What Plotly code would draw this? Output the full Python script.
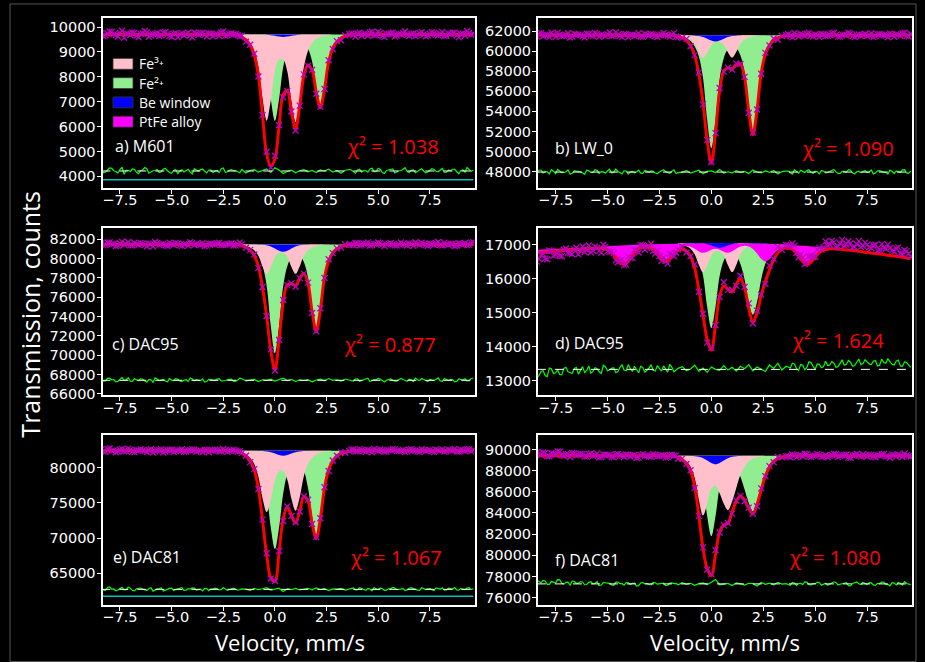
import numpy as np
import plotly.graph_objects as go

# ---------------------------------------------------------------- channels
VEL = np.round(np.linspace(-8.4, 9.6, 91), 1)        # velocity channels, mm/s
CORE = slice(34, 61)                                  # -1.6 ... 3.6 mm/s
# extra (interleaved) channels in the flat wings of every spectrum
VEL_MID = np.round(np.concatenate([np.linspace(-8.3, -1.7, 34), np.linspace(3.7, 9.5, 30)]), 1)

X_RANGE = [-8.345, 9.66]
X_TICKS = [-7.5, -5.0, -2.5, 0.0, 2.5, 5.0, 7.5]

# ---------------------------------------------------------------- a) M601
BASE_A = 9700
FE3_A = [86, 171, 342, 650, 1300, 2586, 3462, 2652, 1474, 997, 1001, 1490, 2689, 3511,
         2624, 1319, 659, 347, 174, 87, 42, 21, 0, 0, 0, 0, 0]
FE2_A = [21, 42, 87, 174, 347, 659, 1319, 2603, 3470, 2603, 1319, 676, 381, 246, 230,
         328, 564, 1087, 2145, 2860, 2145, 1087, 543, 286, 143, 72, 34]
BE_A = [0, 0, 0, 0, 2, 5, 12, 28, 55, 85, 100, 85, 55, 28, 12, 5, 2, 0, 0, 0, 0, 0, 0, 0, 0, 0, 0]
RES_A = [60, -40, 120, 10, -80, 150, 30, -20, 70, -110,
         40, 90, -30, 20, -60, 80, 10, -90, 50, 0,
         -40, 70, -120, 30, 60, -10, 40, -70, 20, 90,
         -50, 30, 10, -30, 60, -80, 20, 50, -40, 10,
         80, -60, 130, 40, -100, -20, 30, -70, 10, 50,
         -30, 20, -60, 40, 0, 70, -40, 20, -90, 30,
         60, -20, 40, -50, 10, 80, -30, 110, -60, 20,
         40, -80, 10, 60, -20, 30, -70, 50, 0, -40,
         90, -10, 30, -60, 40, 70, -30, 20, -50, 60,
         30]
RESM_A = [-70, 40, 110, -20, 60, -130, 30, 80, -50, 20, 140, -90, 10, 60, -30, 100, -60,
          30, -110, 50, 20, -40, 90, -10, 70, -80, 40, 0, -60, 120, -30, 50, 10, -70,
          40, -90, 70, 20, -50, 110, -20, 60, -100, 30, 80, -40, 10, 130, -60,
          40, -20, 90, -70, 20, 60, -30, 100, -50, 10, 70, -110, 40, 140, -10]
RESLVL_A = 4218
CYAN_A = 3861
YR_A = [3535, 10350]
YT_A = [4000, 5000, 6000, 7000, 8000, 9000, 10000]

# ---------------------------------------------------------------- b) LW_0
BASE_B = 61600
FE3_B = [56, 112, 223, 424, 847, 1686, 2256, 1728, 957, 644, 641, 948, 1706, 2227,
         1663, 836, 418, 220, 110, 55, 26, 13, 0, 0, 0, 0, 0]
FE2_B = [68, 135, 282, 565, 1129, 2145, 4290, 8468, 11290, 8468, 4349, 2263, 1374, 1056,
         1263, 1999, 3796, 7358, 9810, 7358, 3728, 1864, 981, 491, 245, 118, 59]
BE_B = [0, 0, 0, 12, 31, 74, 174, 341, 527, 620, 527, 341, 174, 74, 31, 12, 0, 0, 0, 0, 0, 0, 0, 0, 0, 0, 0]
RES_B = [-120, 200, 40, -180, 90, 260, -60, 30, -210, 150,
         70, -90, 180, -30, 240, -150, 20, 110, -70, 300,
         -40, 130, -200, 60, 10, -110, 170, -20, 80, -160,
         90, 40, -130, 220, -60, 0, 150, -90, 30, 190,
         -180, 70, 120, -40, 260, -100, 30, -70, 140, -20,
         60, -150, 210, 10, -80, 120, -30, 170, -200, 50,
         90, -60, 230, -110, 40, 150, -20, 80, -170, 110,
         -40, 200, 20, -130, 70, 250, -90, 30, -60, 160,
         10, -180, 120, 60, -20, 190, -140, 50, 220, -80,
         130]
RESM_B = [180, -90, 30, 250, -160, 60, -40, 210, -120, 90, 20, -220, 140, -60, 170, 40, -100,
          280, -30, 60, -180, 110, 30, -70, 200, -140, 50, 130, -90, 10, 240, -50, 80, -150,
          100, -200, 60, 170, -40, 230, -110, 20, 150, -80, 40, 260, -130, 70, -20,
          190, -170, 90, 30, -60, 210, -100, 140, 0, -190, 80, 120, -40, 250, -120]
RESLVL_B = 47940
YR_B = [46350, 63300]
YT_B = [48000, 50000, 52000, 54000, 56000, 58000, 60000, 62000]

# ---------------------------------------------------------------- c) DAC95
BASE_C = 81450
FE3_C = [75, 150, 300, 570, 1140, 2268, 3036, 2325, 1290, 870, 870, 1290, 2325, 3036,
         2268, 1140, 570, 300, 150, 75, 36, 18, 0, 0, 0, 0, 0]
FE2_C = [68, 135, 281, 563, 1125, 2138, 4275, 8438, 11250, 8438, 4328, 2244, 1346, 1006,
         1166, 1817, 3431, 6638, 8850, 6638, 3363, 1682, 885, 443, 221, 106, 53]
BE_C = [0, 0, 0, 0, 15, 38, 90, 210, 413, 638, 750, 638, 413, 210, 90, 38, 15, 0, 0, 0, 0, 0, 0, 0, 0, 0, 0]
RES_C = [150, -60, 220, 80, -120, 300, 40, -90, 180, -30,
         110, -200, 60, 250, -40, 90, -150, 20, 170, -80,
         30, -120, 140, 60, -30, -180, 90, 10, 130, -70,
         -20, 80, -110, 40, 160, -60, 20, 100, -140, 50,
         0, 120, -80, 60, 210, -30, 90, -120, 40, -20,
         70, -150, 30, 110, -60, 180, -10, 40, -90, 130,
         20, -70, 160, -30, 90, -120, 60, 200, -40, 10,
         150, -80, 40, 90, -110, 60, 230, -30, 80, -130,
         30, 120, -60, 190, -20, 70, -100, 50, 160, -40,
         240]
RESM_C = [-90, 200, 50, -160, 120, -30, 260, -110, 40, 170, -60, 90, -210, 140, 30, -80, 190,
          -20, 100, -140, 60, 230, -50, 10, 150, -120, 80, -30, 180, -70, 40, 120, -90, 210,
          -40, 160, -100, 70, 220, -60, 30, 140, -170, 90, 10, -80, 200, -30, 120,
          -140, 60, 180, -50, 100, -20, 250, -110, 40, 80, -160, 130, 20, -70, 190]
RESLVL_C = 67400
YR_C = [65850, 83200]
YT_C = [66000, 68000, 70000, 72000, 74000, 76000, 78000, 80000, 82000]

# ---------------------------------------------------------------- d) DAC95 (curved baseline)
BASE_D = [16850, 16857, 16863, 16870, 16877, 16884, 16890, 16897, 16903, 16910,
          16917, 16923, 16930, 16936, 16942, 16948, 16954, 16960, 16966, 16972,
          16978, 16984, 16990, 16994, 16998, 17002, 17006, 17010, 17013, 17016,
          17019, 17022, 17025, 17028, 17031, 17034, 17037, 17040, 17042, 17044,
          17046, 17048, 17050, 17050, 17050, 17050, 17050, 17050, 17048, 17046,
          17044, 17042, 17040, 17035, 17030, 17025, 17020, 17015, 17008, 17001,
          16994, 16987, 16980, 16972, 16964, 16956, 16948, 16940, 16928, 16916,
          16904, 16892, 16880, 16866, 16852, 16838, 16824, 16810, 16794, 16778,
          16762, 16746, 16730, 16714, 16698, 16682, 16666, 16650, 16630, 16610,
          16590]
BASE_D_MID = [16853, 16860, 16866, 16873, 16880, 16887, 16893, 16900, 16906, 16913, 16920,
              16926, 16933, 16939, 16945, 16951, 16957, 16963, 16969, 16975, 16981, 16987,
              16992, 16996, 17000, 17004, 17008, 17011, 17014, 17017, 17020, 17023, 17026, 17029,
              16990, 16983, 16976, 16968, 16960, 16952, 16944, 16934, 16922, 16910, 16898,
              16886, 16873, 16859, 16845, 16831, 16817, 16802, 16786, 16770, 16754, 16738,
              16722, 16706, 16690, 16674, 16658, 16640, 16620, 16600]
FE3_D = [21, 43, 85, 162, 323, 643, 860, 659, 366, 247, 247, 366, 659, 860,
         643, 323, 162, 85, 43, 21, 10, 5, 0, 0, 0, 0, 0]
FE2_D = [15, 30, 63, 125, 250, 475, 950, 1875, 2500, 1875, 971, 517, 334, 293,
         378, 618, 1065, 1722, 2100, 1722, 1050, 588, 315, 168, 84, 42, 21]
BE_D = [0, 0, 0, 0, 3, 7, 17, 39, 77, 119, 140, 119, 77, 39, 17, 7, 3, 0, 0, 0, 0, 0, 0, 0, 0, 0, 0]
PTFE_D = [100, 95, 90, 85, 80, 75, 72, 70, 68, 65, 62, 60, 58,
          58, 57, 62, 79, 118, 201, 339, 493,
          565, 483, 322, 177, 99, 75, 95, 168, 299, 447,
          520, 448, 299, 169, 98, 78, 103, 166, 244, 288,
          261, 202, 174, 202, 261, 288, 247, 167, 103, 78,
          98, 169, 299, 448, 520, 447, 299, 167, 94, 74,
          97, 173, 311, 464, 540, 464, 308, 167, 81, 38,
          16, 6, 3,
          0, 0, 0, 0, 0, 0, 0, 0, 0, 0, 0, 0, 0, 0, 0, 0, 0]
PTFE_D_MID = [97, 92, 87, 82, 77, 73, 71, 69, 66, 63, 61, 59, 58, 57, 59, 70, 96, 155, 268,
              420, 540, 535, 405, 245, 132, 84, 82, 128, 232, 378, 500, 500, 378, 232,
              82, 130, 243, 395, 520, 520, 395, 240, 120, 58, 26, 10, 4, 1,
              0, 0, 0, 0, 0, 0, 0, 0, 0, 0, 0, 0, 0, 0, 0, 0]
RES_D = [-250, -60, -180, 40, -120, -20, -160, 60, -90, 20,
         -140, 80, -30, -110, 50, -70, 120, -40, 30, -90,
         60, -20, 140, -60, 10, 90, -80, 40, -30, 110,
         -50, 20, 150, -70, 30, 80, -40, 10, 120, -60,
         40, -90, 70, 0, -30, 110, -20, 60, -50, 90,
         20, 140, -40, 70, 10, -60, 130, 30, 180, -20,
         90, 40, 160, -30, 120, 60, 200, 10, 150, 80,
         110, 230, 60, 170, 120, 260, 90, 210, 140, 280,
         160, 240, 100, 300, 180, 220, 130, 270, 90, 200,
         60]
RESM_D = [-180, -40, -210, 20, -100, -150, 30, -70, -120, 60, -30, -90, 100, -60, 20, -120, 80,
          -20, 50, -70, 130, -40, 20, 90, -100, 60, -20, 140, -50, 30, 100, -80, 60, -30,
          70, 180, 20, 140, -10, 220, 90, 160, 50, 240, 130, 190, 80, 280, 150,
          210, 110, 300, 170, 230, 140, 260, 120, 200, 310, 150, 240, 100, 220, 130]
RESLVL_D = 13340
YR_D = [12580, 17500]
YT_D = [13000, 14000, 15000, 16000, 17000]

# ---------------------------------------------------------------- e) DAC81
BASE_E = 82400
FE3_E = [258, 515, 1031, 1890, 3694, 6759, 8716, 6952, 4198, 2898, 2879, 4127, 6810, 8529,
         6612, 3612, 1848, 1008, 504, 252, 126, 59, 0, 0, 0, 0, 0]
FE2_E = [98, 210, 419, 839, 1678, 3076, 6011, 10904, 13980, 10904, 6095, 3255, 2037, 1557,
         1854, 2841, 5241, 9329, 11960, 9329, 5143, 2631, 1435, 718, 359, 179, 84]
BE_E = [0, 0, 0, 0, 14, 35, 84, 196, 385, 595, 700, 595, 385, 196, 84, 35, 14, 0, 0, 0, 0, 0, 0, 0, 0, 0, 0]
RES_E = [200, -150, 350, 60, -100, 280, -40, 150, -220, 90,
         40, -180, 230, -60, 120, -250, 70, 180, -30, 100,
         -140, 60, 210, -90, 30, 150, -200, 40, 110, -60,
         90, -30, 170, -120, 60, 20, -160, 130, -50, 80,
         240, -110, 40, 160, -300, 70, -40, 120, -90, 30,
         150, -70, 210, -20, 90, -180, 60, 20, 130, -100,
         50, 190, -60, 110, -140, 40, 260, -30, 90, -120,
         70, 180, -40, 130, -80, 240, 20, -150, 100, 60,
         -60, 200, 30, -110, 170, 50, -90, 140, -20, 230,
         90]
RESM_E = [-120, 260, 30, -200, 150, -60, 310, -140, 80, 190, -30, 120, -250, 60, 200, -90, 140,
          -170, 40, 230, -100, 70, 180, -40, -220, 110, 30, 160, -80, 250, -150, 90, 20, -60,
          170, -90, 240, -30, 120, -200, 60, 190, -140, 80, 280, -50, 30, -180, 150,
          90, -110, 220, -20, 130, -160, 60, 210, -70, 100, 260, -120, 40, 180, -40]
RESLVL_E = 62700
CYAN_E = 61710
YR_E = [60540, 84670]
YT_E = [65000, 70000, 75000, 80000]

# ---------------------------------------------------------------- f) DAC81
BASE_F = 89400
FE3_F = [135, 270, 539, 1024, 2108, 4168, 5640, 4543, 3048, 2824, 3539, 4520, 5135, 4315,
         3032, 1800, 1000, 500, 250, 125, 60, 0, 0, 0, 0, 0, 0]
FE2_F = [46, 91, 190, 380, 760, 1444, 2888, 5700, 7600, 5700, 2951, 1575, 1022, 904,
         1238, 1977, 3190, 4454, 5240, 4454, 3144, 1886, 1048, 524, 262, 131, 63]
BE_F = [0, 0, 0, 16, 40, 96, 224, 440, 680, 800, 680, 440, 224, 96, 40, 16, 0, 0, 0, 0, 0, 0, 0, 0, 0, 0, 0]
RES_F = [350, 100, 280, -50, 200, 400, 60, 150, -120, 250,
         90, 180, -60, 220, 40, -150, 130, 70, -90, 160,
         30, -120, 110, 60, -200, 90, 20, -60, 140, -30,
         50, -170, 80, 20, -90, 120, -40, 60, -130, 30,
         100, -60, 150, 420, -80, -30, 40, -150, 90, 10,
         -110, 60, 20, -190, 130, -40, 70, -80, 150, -20,
         30, -140, 90, 40, -60, 170, -100, 20, 110, -50,
         -130, 60, 140, -30, 80, -170, 40, 190, -60, 20,
         110, -90, 50, 160, -40, -180, 70, 130, -110, 40,
         -70]
RESM_F = [180, 320, -40, 240, 90, 380, -20, 160, 260, 40, 200, -80, 150, 10, 230, -110, 100,
          50, -140, 170, 20, 120, -60, 80, -170, 140, 30, -90, 110, -20, 60, -130, 90, 40,
          -60, 130, -150, 50, 190, -80, 20, 160, -120, 70, -30, 200, -100, 40, 120,
          -180, 80, 10, 150, -60, 90, -140, 30, 170, -40, 110, -90, 60, 220, -10]
RESLVL_F = 77300
YR_F = [75350, 91380]
YT_F = [76000, 78000, 80000, 82000, 84000, 86000, 88000, 90000]

LABELS = ["a) M601", "b) LW_0", "c) DAC95", "d) DAC95", "e) DAC81", "f) DAC81"]
CHI2 = ["1.038", "1.090", "0.877", "1.624", "1.067", "1.080"]
LEGEND_NAMES = ["Fe³⁺", "Fe²⁺", "Be window", "PtFe alloy"]

# ---------------------------------------------------------------- styling
C_FE3, C_FE2, C_BE, C_PTFE = "#ffc0cb", "#90ee90", "#0000ff", "#ff00ff"
C_DATA, C_FIT, C_RES, C_CYAN = "#bf00bf", "#ff0000", "#00ff00", "#00bfbf"
LEGEND_COLORS = [C_FE3, C_FE2, C_BE, C_PTFE]
FONT = "DejaVu Sans"
TFONT = "Open Sans"
W, H = 925, 662

COL_X = [[102.5 / W, 474.5 / W], [538 / W, 912 / W]]
ROW_Y = [[1 - 190 / H, 1 - 18.5 / H], [1 - 399.5 / H, 1 - 230 / H], [1 - 611 / H, 1 - 439.5 / H]]

PANELS = [
    dict(base=BASE_A, base_mid=None, fe3=FE3_A, fe2=FE2_A, be=BE_A, ptfe=None, ptfe_mid=None,
         res=RES_A, resm=RESM_A, lvl=RESLVL_A, cyan=CYAN_A, yr=YR_A, yt=YT_A),
    dict(base=BASE_B, base_mid=None, fe3=FE3_B, fe2=FE2_B, be=BE_B, ptfe=None, ptfe_mid=None,
         res=RES_B, resm=RESM_B, lvl=RESLVL_B, cyan=None, yr=YR_B, yt=YT_B),
    dict(base=BASE_C, base_mid=None, fe3=FE3_C, fe2=FE2_C, be=BE_C, ptfe=None, ptfe_mid=None,
         res=RES_C, resm=RESM_C, lvl=RESLVL_C, cyan=None, yr=YR_C, yt=YT_C),
    dict(base=BASE_D, base_mid=BASE_D_MID, fe3=FE3_D, fe2=FE2_D, be=BE_D, ptfe=PTFE_D, ptfe_mid=PTFE_D_MID,
         res=RES_D, resm=RESM_D, lvl=RESLVL_D, cyan=None, yr=YR_D, yt=YT_D),
    dict(base=BASE_E, base_mid=None, fe3=FE3_E, fe2=FE2_E, be=BE_E, ptfe=None, ptfe_mid=None,
         res=RES_E, resm=RESM_E, lvl=RESLVL_E, cyan=CYAN_E, yr=YR_E, yt=YT_E),
    dict(base=BASE_F, base_mid=None, fe3=FE3_F, fe2=FE2_F, be=BE_F, ptfe=None, ptfe_mid=None,
         res=RES_F, resm=RESM_F, lvl=RESLVL_F, cyan=None, yr=YR_F, yt=YT_F),
]

fig = go.Figure()
n, nm = len(VEL), len(VEL_MID)

for i, p in enumerate(PANELS):
    sfx = "" if i == 0 else str(i + 1)
    xa, ya = "x" + sfx, "y" + sfx
    if np.isscalar(p["base"]):
        base = np.full(n, float(p["base"]))
        base_mid = np.full(nm, float(p["base"]))
    else:
        base = np.array(p["base"], dtype=float)
        base_mid = np.array(p["base_mid"], dtype=float)
    fe3 = np.array(p["fe3"], float)
    fe2 = np.array(p["fe2"], float)
    be = np.array(p["be"], float)
    dip = np.zeros(n)
    dip[CORE] += fe3 + fe2 + be
    dip_mid = np.zeros(nm)
    if p["ptfe"] is not None:
        dip += np.array(p["ptfe"], float)
        dip_mid += np.array(p["ptfe_mid"], float)
    fit = base - dip
    data = fit + np.array(p["res"], float)
    data_mid = base_mid - dip_mid + np.array(p["resm"], float)

    # residual trace on the merged channel list
    order = np.argsort(np.concatenate([VEL, VEL_MID]))
    res_x = np.concatenate([VEL, VEL_MID])[order]
    res_y = (p["lvl"] + np.concatenate([np.array(p["res"], float), np.array(p["resm"], float)]))[order]

    xc = VEL[CORE]
    bc = base[CORE]

    def add_fill(x, b, depth, color):
        fig.add_trace(go.Scatter(x=x, y=b, mode="lines", line=dict(width=0),
                                 hoverinfo="skip", showlegend=False, xaxis=xa, yaxis=ya))
        fig.add_trace(go.Scatter(x=x, y=b - depth, mode="lines",
                                 line=dict(width=0, shape="spline", color=color),
                                 fill="tonexty", fillcolor=color,
                                 showlegend=False, xaxis=xa, yaxis=ya))

    add_fill(xc, bc, fe2, C_FE2)
    add_fill(xc, bc, fe3, C_FE3)
    if p["ptfe"] is not None:
        add_fill(VEL, base, np.array(p["ptfe"], float), C_PTFE)
    add_fill(xc, bc, be, C_BE)

    if p["cyan"] is not None:
        fig.add_trace(go.Scatter(x=[VEL[0], VEL[-1]], y=[p["cyan"], p["cyan"]], mode="lines",
                                 line=dict(color=C_CYAN, width=1.5), showlegend=False,
                                 xaxis=xa, yaxis=ya))
    fig.add_trace(go.Scatter(x=res_x, y=res_y, mode="lines", line=dict(color=C_RES, width=1.2),
                             showlegend=False, xaxis=xa, yaxis=ya))
    fig.add_trace(go.Scatter(x=[VEL[0], VEL[-1]], y=[p["lvl"], p["lvl"]], mode="lines",
                             line=dict(color="white", width=1, dash="dash"), showlegend=False,
                             xaxis=xa, yaxis=ya))
    fig.add_trace(go.Scatter(x=VEL, y=fit, mode="lines",
                             line=dict(color=C_FIT, width=3, shape="spline"),
                             showlegend=False, xaxis=xa, yaxis=ya))
    mk = dict(symbol="x-thin", size=6, line=dict(width=1.3, color=C_DATA))
    fig.add_trace(go.Scatter(x=VEL, y=data, mode="markers", marker=mk,
                             showlegend=False, xaxis=xa, yaxis=ya))
    fig.add_trace(go.Scatter(x=VEL_MID, y=data_mid, mode="markers", marker=mk,
                             showlegend=False, xaxis=xa, yaxis=ya))

    col, row = i % 2, i // 2
    axis_common = dict(showgrid=False, zeroline=False, showline=True, mirror=True,
                       linecolor="white", linewidth=2, ticks="outside", ticklen=4,
                       tickcolor="white", tickwidth=1,
                       tickfont=dict(family=FONT, size=14.5, color="white"))
    fig.layout["xaxis" + sfx] = dict(domain=COL_X[col], range=X_RANGE, tickvals=X_TICKS,
                                     tickformat=".1f", anchor=ya, ticklabelstandoff=-6,
                                     **axis_common)
    fig.layout["yaxis" + sfx] = dict(domain=ROW_Y[row], range=p["yr"], tickvals=p["yt"],
                                     tickformat="d", anchor=xa, ticklabelstandoff=-2,
                                     **axis_common)

# ---------------------------------------------------------------- text
LABEL_POS = [(113, 148), (553, 150), (110, 348), (553, 347), (111, 563), (553, 566)]
CHI_POS = [(345, 148), (800, 150), (342, 348), (790, 344), (348, 563), (787, 563)]
ann = []
for lab, (px, py) in zip(LABELS, LABEL_POS):
    ann.append(dict(text=lab, x=px / W, y=1 - py / H, xref="paper", yref="paper",
                    xanchor="left", yanchor="middle", showarrow=False,
                    font=dict(family=TFONT, size=16, color="white")))
for chi, (px, py) in zip(CHI2, CHI_POS):
    ann.append(dict(text="χ² = " + chi, x=px / W, y=1 - py / H, xref="paper", yref="paper",
                    xanchor="left", yanchor="middle", showarrow=False,
                    font=dict(family=TFONT, size=20, color="#ff0000")))
ann.append(dict(text="Transmission, counts", x=30 / W, y=1 - 318 / H, xref="paper", yref="paper",
                textangle=-90, showarrow=False, xanchor="center", yanchor="middle",
                font=dict(family=TFONT, size=25, color="white")))
for px in [290, 725]:
    ann.append(dict(text="Velocity, mm/s", x=px / W, y=-3 / H, xref="paper", yref="paper",
                    showarrow=False, xanchor="center", yanchor="bottom", borderpad=0,
                    font=dict(family=TFONT, size=22, color="white")))

# manual legend inside panel a
shapes = [dict(type="rect", xref="paper", yref="paper", x0=10 / W, x1=916 / W,
               y0=-0.01, y1=1 - 4 / H, line=dict(color="#555555", width=1))]
LEG_ROWS = [64.5, 84, 103.5, 123]
for name, color, yc in zip(LEGEND_NAMES, LEGEND_COLORS, LEG_ROWS):
    shapes.append(dict(type="rect", xref="paper", yref="paper",
                       x0=113 / W, x1=133 / W, y0=1 - (yc + 5.5) / H, y1=1 - (yc - 5.5) / H,
                       fillcolor=color, line=dict(color="#333333", width=0.8)))
    ann.append(dict(text=name, x=138 / W, y=1 - yc / H, xref="paper", yref="paper",
                    xanchor="left", yanchor="middle", showarrow=False, borderpad=0,
                    font=dict(family=TFONT, size=14, color="white")))

fig.update_layout(
    width=W, height=H,
    margin=dict(l=0, r=0, t=0, b=0),
    paper_bgcolor="black", plot_bgcolor="black",
    annotations=ann,
    shapes=shapes,
    showlegend=False,
)

fig.write_html("out.html", config={"displayModeBar": False},
               post_script="document.body.style.margin='0px';document.body.style.overflow='hidden';")
